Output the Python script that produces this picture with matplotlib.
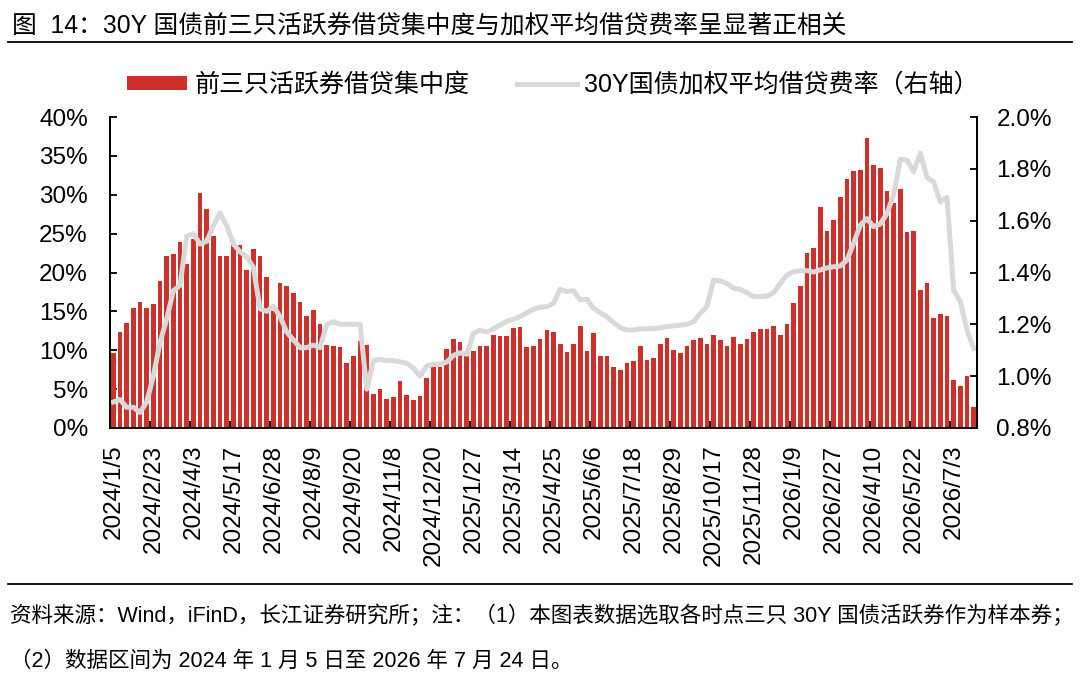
import matplotlib

matplotlib.use("Agg")
import matplotlib.pyplot as plt
from matplotlib.lines import Line2D
from matplotlib.ticker import FuncFormatter, MultipleLocator
import numpy as np

plt.rcParams["font.family"] = ["Liberation Sans", "Noto Sans CJK SC", "DejaVu Sans"]

# weekly data, 2024/1/5 - 2026/7/24
concentration = [
    9.7, 12.4, 13.5, 15.4, 16.2, 15.4, 16.0, 18.9, 22.1, 22.4,
    23.9, 21.1, 24.3, 30.2, 28.2, 24.7, 22.1, 22.1, 23.5, 23.5,
    20.3, 23.0, 22.1, 19.4, 15.0, 18.6, 18.2, 17.4, 16.2, 14.4,
    15.2, 13.4, 10.7, 10.5, 10.4, 8.3, 9.2, 11.2, 10.7, 4.4,
    5.0, 3.7, 4.0, 6.1, 4.2, 3.6, 4.1, 6.4, 7.8, 7.9,
    10.2, 11.4, 11.1, 9.3, 9.9, 10.5, 10.5, 12.0, 11.8, 11.8,
    12.9, 13.0, 10.4, 10.6, 11.4, 12.6, 12.4, 10.8, 9.8, 10.8,
    13.1, 9.9, 12.2, 9.3, 9.3, 7.9, 7.5, 8.4, 8.6, 10.6,
    8.7, 9.0, 10.8, 11.6, 10.0, 9.6, 10.5, 11.3, 11.6, 10.8,
    11.9, 11.3, 10.6, 11.7, 10.8, 11.4, 12.3, 12.7, 12.7, 13.1,
    12.0, 13.4, 16.1, 18.3, 22.5, 23.2, 28.4, 25.4, 26.8, 29.7,
    32.0, 33.0, 33.2, 37.3, 33.8, 33.5, 30.5, 29.0, 30.8, 25.2,
    25.4, 17.7, 18.6, 14.1, 14.6, 14.4, 6.2, 5.4, 6.7, 2.7,
]

fee_rate = [
    0.90, 0.91, 0.88, 0.88, 0.86, 0.90, 1.00, 1.13, 1.22, 1.33,
    1.35, 1.54, 1.55, 1.51, 1.52, 1.58, 1.63, 1.58, 1.51, 1.48,
    1.46, 1.42, 1.26, 1.25, 1.27, 1.23, 1.17, 1.14, 1.11, 1.11,
    1.12, 1.11, 1.20, 1.21, 1.20, 1.20, 1.20, 1.20, 0.95, 1.06,
    1.065, 1.06, 1.06, 1.055, 1.05, 1.03, 1.00, 1.04, 1.045, 1.045,
    1.055, 1.08, 1.09, 1.085, 1.165, 1.178, 1.17, 1.183, 1.197, 1.212,
    1.22, 1.23, 1.244, 1.258, 1.266, 1.268, 1.281, 1.335, 1.326, 1.33,
    1.294, 1.297, 1.262, 1.245, 1.229, 1.206, 1.187, 1.178, 1.178, 1.183,
    1.183, 1.183, 1.187, 1.191, 1.194, 1.197, 1.200, 1.210, 1.242, 1.268,
    1.371, 1.367, 1.358, 1.339, 1.335, 1.322, 1.307, 1.307, 1.309, 1.322,
    1.358, 1.390, 1.403, 1.407, 1.407, 1.402, 1.410, 1.418, 1.422, 1.425,
    1.448, 1.513, 1.583, 1.608, 1.577, 1.587, 1.628, 1.70, 1.837, 1.834,
    1.789, 1.860, 1.767, 1.750, 1.673, 1.690, 1.332, 1.287, 1.178, 1.107,
]

date_labels = [
    "2024/1/5", "2024/2/23", "2024/4/3", "2024/5/17", "2024/6/28", "2024/8/9",
    "2024/9/20", "2024/11/8", "2024/12/20", "2025/1/27", "2025/3/14", "2025/4/25",
    "2025/6/6", "2025/7/18", "2025/8/29", "2025/10/17", "2025/11/28", "2026/1/9",
    "2026/2/27", "2026/4/10", "2026/5/22", "2026/7/3",
]
label_step = 6

title = "图  14：30Y 国债前三只活跃券借贷集中度与加权平均借贷费率呈显著正相关"
bar_name = "前三只活跃券借贷集中度"
line_name = "30Y国债加权平均借贷费率（右轴）"
note1 = "资料来源：Wind，iFinD，长江证券研究所；注：（1）本图表数据选取各时点三只 30Y 国债活跃券作为样本券；"
note2 = "（2）数据区间为 2024 年 1 月 5 日至 2026 年 7 月 24 日。"

W, H = 1080, 686
fig = plt.figure(figsize=(W / 100, H / 100), dpi=100)
ax = fig.add_axes([110 / W, 1 - 428 / H, 867 / W, 311 / H])
ax2 = ax.twinx()

x = np.arange(len(concentration))
ax.bar(x, np.array(concentration) / 100, width=0.7, color="#D0302A", label=bar_name, zorder=2)
ax2.plot(x, fee_rate, color="#D9D9D9", lw=3.6, solid_joinstyle="round", label=line_name)

ax.set_xlim(-0.5, len(x) - 0.5)
ax.set_ylim(0, 0.40)
ax2.set_ylim(0.8, 2.0)
ax.yaxis.set_major_locator(MultipleLocator(0.05))
ax.yaxis.set_major_formatter(FuncFormatter(lambda v, _: f"{v * 100:.0f}%"))
ax2.yaxis.set_major_locator(MultipleLocator(0.2))
ax2.yaxis.set_major_formatter(FuncFormatter(lambda v, _: f"{v:.1f}%"))

label_pos = np.arange(0, len(x), label_step)[: len(date_labels)]
ax.set_xticks(label_pos)
ax.set_xticklabels(date_labels, rotation=90, va="top", ha="center")
ax.set_xticks(np.arange(label_step - 0.5, len(x) - 1, label_step), minor=True)
ax.tick_params(axis="x", which="major", length=0, pad=12, labelsize=17.5)
ax.tick_params(axis="x", which="minor", direction="in", length=5, width=1.3)
ax.tick_params(axis="y", direction="in", length=5, width=1.3, pad=16, labelsize=17.5)
ax2.tick_params(axis="y", direction="in", length=5, width=1.3, pad=14, labelsize=17.5)

for a in (ax, ax2):
    a.spines["top"].set_visible(False)
    for s in ("left", "right", "bottom"):
        a.spines[s].set_linewidth(1.3)
ax2.spines["bottom"].set_visible(False)

handles = [ax.patches[0], ax2.lines[0]]
fig.legend(handles, [bar_name, line_name], loc="center", bbox_to_anchor=(553 / W, 1 - 85 / H),
           ncol=2, frameon=False, fontsize=18, handlelength=2.4, handleheight=0.5,
           handletextpad=0.3, columnspacing=1.9)

fig.text(12 / W, 1 - 26 / H, title, fontsize=17.8, va="center", ha="left")
fig.add_artist(Line2D([8 / W, 1072 / W], [1 - 42 / H] * 2, color="black", lw=1.3))
fig.add_artist(Line2D([8 / W, 1072 / W], [1 - 584 / H] * 2, color="black", lw=1.3))
fig.text(10 / W, 1 - 616 / H, note1, fontsize=15.5, va="center", ha="left")
fig.text(10 / W, 1 - 661 / H, note2, fontsize=15.5, va="center", ha="left")

fig.savefig("out.png", dpi=100)
plt.close(fig)
